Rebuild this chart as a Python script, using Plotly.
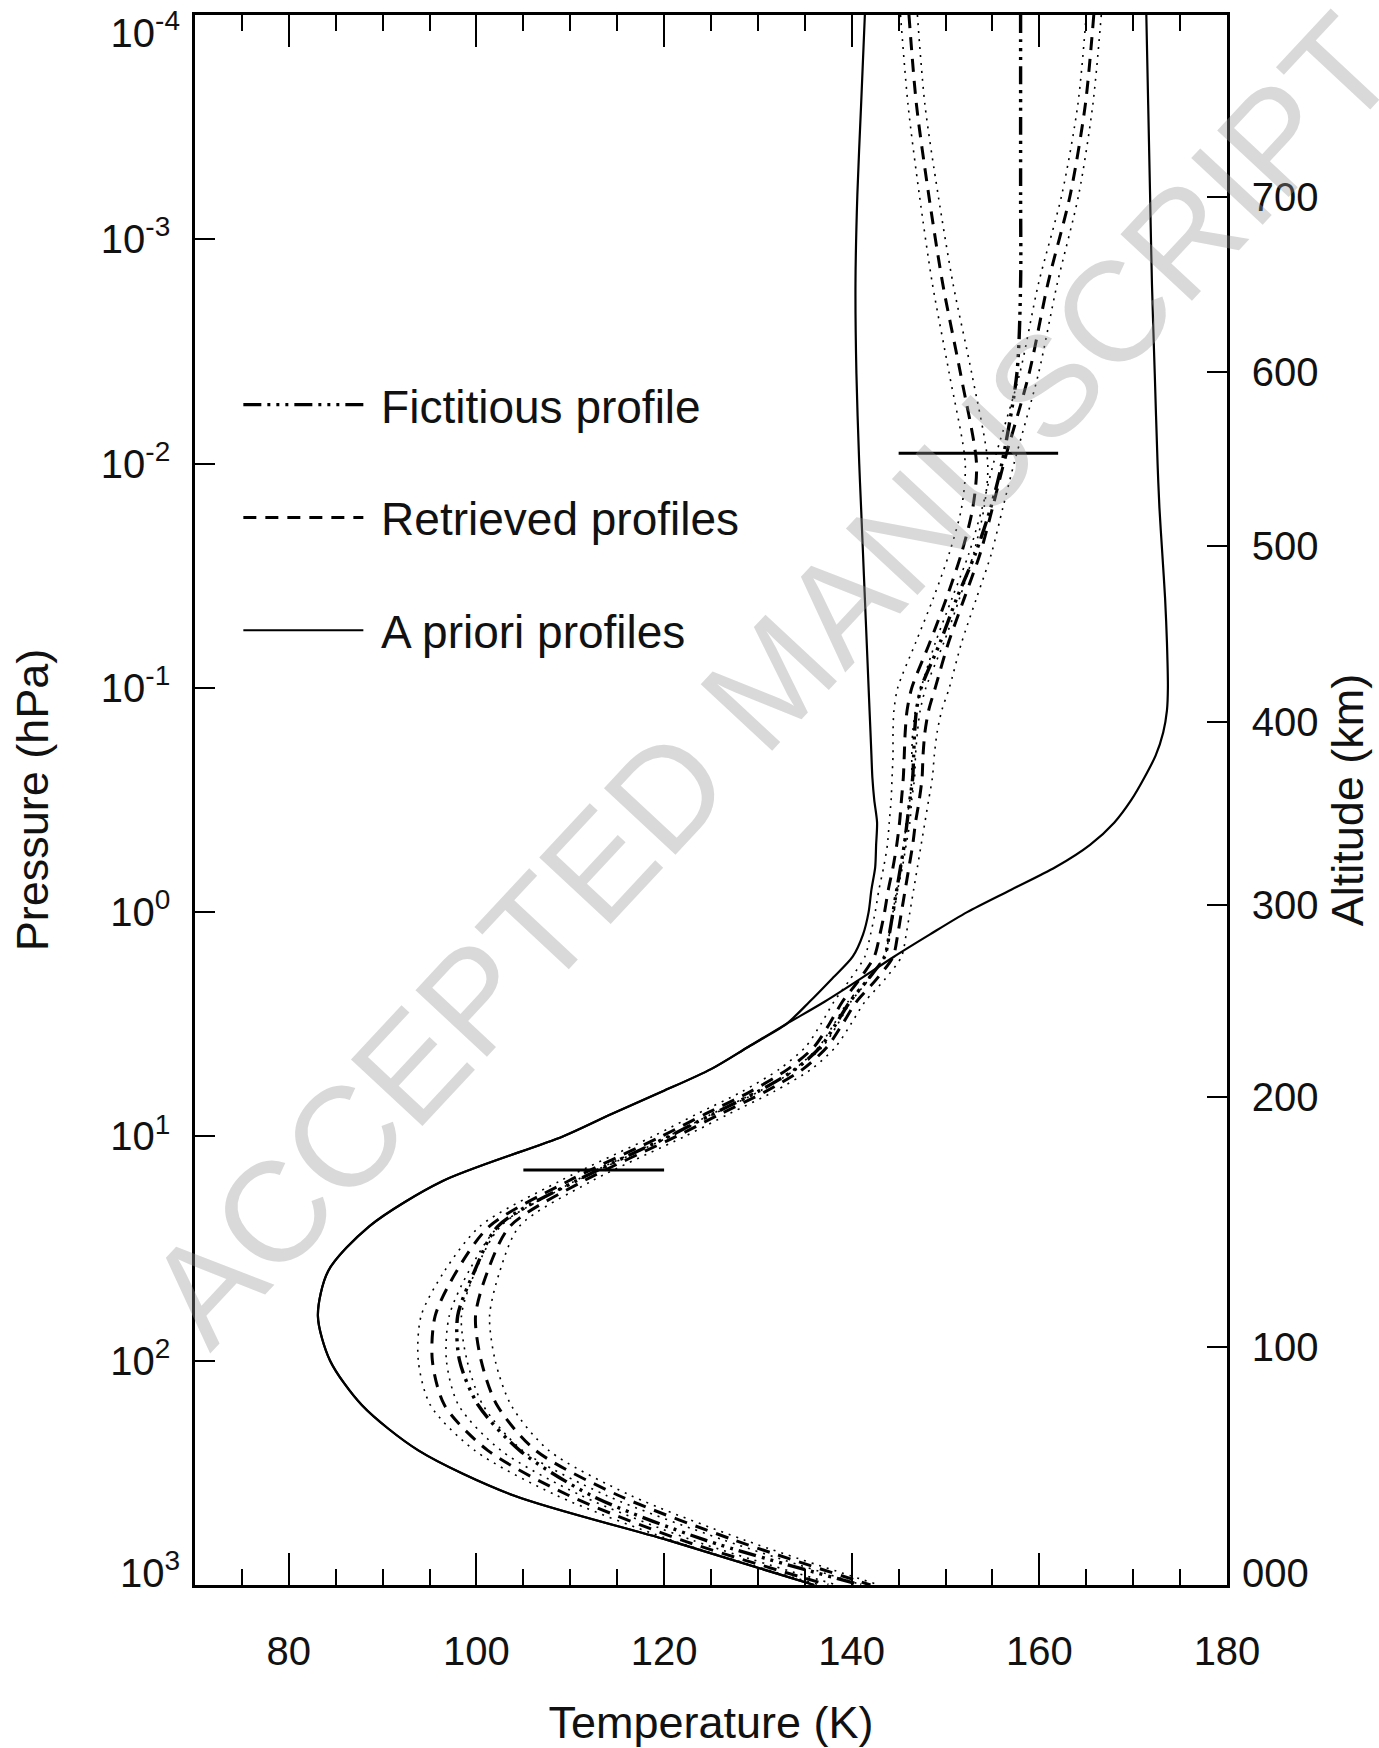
import plotly.graph_objects as go

# ---------------- data ----------------
pressure_hpa = [1.0e-4, 2.51e-4, 6.31e-4, 1.58e-3, 3.98e-3, 1.0e-2, 1.58e-2, 2.51e-2, 3.98e-2, 6.31e-2,
                0.100, 0.126, 0.158, 0.200, 0.251, 0.316, 0.398, 0.501, 0.631, 0.794,
                1.00, 1.26, 1.58, 2.00, 2.51, 3.16, 3.98, 5.01, 6.31, 7.94,
                10.0, 15.8, 25.1, 39.8, 63.1, 100.0, 158.0, 251.0, 398.0, 631.0, 1000.0]

apriori_warm_K = [171.4, 171.6, 171.8, 172.0, 172.3, 172.6, 172.8, 173.1, 173.4, 173.6,
                  173.7, 173.6, 173.2, 172.4, 171.2, 169.8, 168.0, 165.4, 161.7, 157.0,
                  152.3, 148.3, 144.5, 140.8, 137.1, 133.0, 129.0, 125.0, 119.8, 114.4,
                  109.2, 96.4, 88.6, 84.2, 83.1, 84.4, 87.8, 93.8, 103.9, 120.4, 136.0]

apriori_cold_K = [141.4, 141.0, 140.6, 140.4, 140.5, 140.8, 141.0, 141.2, 141.4, 141.6,
                  141.8, 141.9, 142.0, 142.1, 142.2, 142.4, 142.7, 142.6, 142.5, 142.1,
                  141.8, 141.2, 140.1, 137.8, 135.5, 133.0, 129.0, 125.0, 119.8, 114.4,
                  109.2, 96.4, 88.6, 84.2, 83.1, 84.4, 87.8, 93.8, 103.9, 120.4, 136.0]

fictitious_K = [158.0, 158.0, 158.0, 158.0, 157.6, 156.0, 154.8, 153.2, 151.2, 149.4,
                147.4, 146.9, 146.7, 146.6, 146.5, 146.2, 145.9, 145.6, 145.2, 144.8,
                144.4, 144.0, 143.5, 141.7, 139.8, 138.3, 136.7, 134.0, 130.0, 125.2,
                120.5, 110.6, 102.3, 99.8, 98.0, 98.2, 100.2, 104.6, 112.2, 124.4, 141.0]

retrieved_cold_K = [146.1, 146.9, 148.2, 149.7, 151.6, 153.3, 152.9, 151.7, 150.1, 148.3,
                    146.4, 145.9, 145.7, 145.6, 145.5, 145.3, 145.1, 144.8, 144.4, 143.9,
                    143.5, 143.0, 142.4, 140.8, 139.0, 137.6, 136.0, 133.2, 129.2, 124.4,
                    119.7, 109.8, 101.4, 97.9, 95.6, 95.3, 96.6, 101.2, 109.8, 121.9, 137.5]

retrieved_warm_K = [165.8, 164.9, 163.3, 160.9, 158.9, 156.2, 155.0, 153.7, 152.0, 150.3,
                    148.9, 148.2, 147.8, 147.6, 147.5, 147.2, 146.8, 146.5, 146.1, 145.7,
                    145.3, 144.9, 144.4, 142.6, 140.5, 139.0, 137.4, 134.8, 130.8, 126.0,
                    121.3, 111.4, 103.6, 101.2, 99.9, 100.5, 102.2, 106.3, 115.1, 127.5, 142.0]

error_cold_K = [0.9, 0.9, 1.0, 1.1, 1.2, 1.2, 1.2, 1.3, 1.4, 1.5,
                1.5, 1.4, 1.3, 1.2, 1.2, 1.1, 1.1, 1.0, 1.0, 1.0,
                1.0, 1.0, 1.0, 1.0, 0.9, 0.9, 0.9, 0.9, 0.9, 0.9,
                0.9, 0.9, 1.0, 1.3, 1.5, 1.5, 1.5, 1.4, 1.3, 1.1, 0.9]

error_warm_K = [0.8, 0.8, 0.9, 1.0, 1.0, 1.1, 1.1, 1.2, 1.3, 1.4,
                1.5, 1.4, 1.3, 1.2, 1.1, 1.0, 1.0, 0.9, 0.9, 0.9,
                0.9, 0.9, 0.9, 0.9, 0.9, 0.9, 0.9, 0.9, 0.9, 0.9,
                0.9, 0.9, 1.0, 1.3, 1.5, 1.5, 1.5, 1.4, 1.3, 1.1, 0.9]

# horizontal markers (temperature span, pressure level)
marker_upper_T = [145.0, 162.0]
marker_upper_p = 9.0e-3
marker_lower_T = [105.0, 120.0]
marker_lower_p = 14.1

# axes ticks
pressure_ticks = [1e-3, 1e-2, 1e-1, 1e0, 1e1, 1e2]
pressure_ticktext = ["10<sup>-3</sup>", "10<sup>-2</sup>", "10<sup>-1</sup>",
                     "10<sup>0</sup>", "10<sup>1</sup>", "10<sup>2</sup>"]
temperature_ticks = [80, 100, 120, 140, 160, 180]
altitude_km = [100, 200, 300, 400, 500, 600, 700]
altitude_pressure_hpa = [86.5, 6.70, 0.931, 0.142, 0.0232, 3.92e-3, 6.50e-4]

legend_names = ["Fictitious profile", "Retrieved profiles", "A priori profiles"]

# ---------------- styling ----------------
FONT = "Liberation Sans, Arial, Helvetica, sans-serif"
INK = "#111111"
DASH_FICT = "18px,6px,3px,6px,3px,6px,3px,6px"
DASH_RETR = "13px,9px"
DASH_DOT = "2px,6px"
PAD = "\u00a0"  # small gap between legend sample and its text

fig = go.Figure()


def add_profile(T, dash, width, name=None, group=None, rank=None, legend=False):
    fig.add_trace(go.Scatter(
        x=T, y=pressure_hpa, mode="lines",
        name=(PAD + name) if name else None,
        line=dict(color="black", width=width, dash=dash, shape="spline", smoothing=0.8),
        showlegend=legend, legendgroup=group, legendrank=rank, hoverinfo="skip"))


# a priori (solid)
add_profile(apriori_warm_K, "solid", 2.2, legend_names[2], "apriori", 3, True)
add_profile(apriori_cold_K, "solid", 2.2, legend_names[2], "apriori", 3, False)

# error envelopes (dotted)
for R, E in ((retrieved_cold_K, error_cold_K), (retrieved_warm_K, error_warm_K)):
    add_profile([r - e for r, e in zip(R, E)], DASH_DOT, 1.6, None, "retr", 2, False)
    add_profile([r + e for r, e in zip(R, E)], DASH_DOT, 1.6, None, "retr", 2, False)

# retrieved (dashed)
add_profile(retrieved_cold_K, DASH_RETR, 3.0, legend_names[1], "retr", 2, True)
add_profile(retrieved_warm_K, DASH_RETR, 3.0, legend_names[1], "retr", 2, False)

# fictitious (dash-dot-dot-dot)
add_profile(fictitious_K, DASH_FICT, 3.4, legend_names[0], "fict", 1, True)

# horizontal markers
fig.add_trace(go.Scatter(x=marker_upper_T, y=[marker_upper_p] * 2, mode="lines",
                         line=dict(color="black", width=3), showlegend=False, hoverinfo="skip"))
fig.add_trace(go.Scatter(x=marker_lower_T, y=[marker_lower_p] * 2, mode="lines",
                         line=dict(color="black", width=3), showlegend=False, hoverinfo="skip"))

# helper traces so the overlay axes exist
for ax in ("y2", "y3", "y4", "y5"):
    fig.add_trace(go.Scatter(x=[None], y=[None], yaxis=ax, showlegend=False, hoverinfo="skip"))

tickfont = dict(family=FONT, size=40, color=INK)
titlefont = dict(family=FONT, size=45, color=INK)
yrange = [3, -4]

fig.update_layout(
    width=1379, height=1748,
    margin=dict(l=195, r=152, t=15, b=163, pad=0),
    paper_bgcolor="white", plot_bgcolor="white",
    showlegend=True,
    legend=dict(x=0.042, y=0.775, xanchor="left", yanchor="top",
                bgcolor="rgba(0,0,0,0)", borderwidth=0,
                font=dict(family=FONT, size=46, color=INK),
                itemwidth=120, tracegroupgap=50, traceorder="grouped"),
    xaxis=dict(range=[70, 180], tickmode="array", tickvals=temperature_ticks,
               ticks="inside", ticklen=32, tickwidth=2, tickcolor="black",
               minor=dict(ticks="inside", ticklen=16, tickwidth=2, tickcolor="black",
                          tickmode="linear", tick0=0, dtick=5),
               showline=True, linewidth=2.5, linecolor="black", mirror="ticks",
               showgrid=False, zeroline=False, tickfont=tickfont, ticklabelstandoff=29,
               title=dict(text="Temperature (K)", font=titlefont, standoff=39),
               automargin=False),
    yaxis=dict(type="log", range=yrange, tickmode="array", tickvals=pressure_ticks,
               ticktext=pressure_ticktext, ticks="inside", ticklen=20, tickwidth=2,
               tickcolor="black", showline=True, linewidth=2.5, linecolor="black",
               mirror=False, showgrid=False, zeroline=False, tickfont=tickfont,
               ticklabelstandoff=14,
               title=dict(text="Pressure (hPa)", font=titlefont, standoff=39),
               automargin=False),
    yaxis2=dict(type="log", range=yrange, overlaying="y", side="right", anchor="x",
                tickmode="array", tickvals=altitude_pressure_hpa,
                ticktext=[str(a) for a in altitude_km],
                ticks="inside", ticklen=20, tickwidth=2, tickcolor="black",
                showline=True, linewidth=2.5, linecolor="black",
                showgrid=False, zeroline=False, tickfont=tickfont, ticklabelstandoff=14,
                title=dict(text="Altitude (km)", font=titlefont, standoff=14),
                automargin=False),
    yaxis3=dict(type="log", range=yrange, overlaying="y", side="left", anchor="x",
                tickmode="array", tickvals=[1e-4], ticktext=["10<sup>-4</sup>"],
                ticks="", showline=False, showgrid=False, zeroline=False,
                tickfont=tickfont, ticklabelstandoff=14, ticklabelshift=-18,
                automargin=False),
    yaxis4=dict(type="log", range=yrange, overlaying="y", side="left", anchor="x",
                tickmode="array", tickvals=[1e3], ticktext=["10<sup>3</sup>"],
                ticks="", showline=False, showgrid=False, zeroline=False,
                tickfont=tickfont, ticklabelstandoff=14, ticklabelshift=12,
                automargin=False),
    yaxis5=dict(type="log", range=yrange, overlaying="y", side="right", anchor="x",
                tickmode="array", tickvals=[1e3], ticktext=["000"],
                ticks="", showline=False, showgrid=False, zeroline=False,
                tickfont=tickfont, ticklabelstandoff=14, ticklabelshift=12,
                automargin=False),
)

fig.add_annotation(text="ACCEPTED MANUSCRIPT", xref="paper", yref="paper",
                   x=0.558, y=0.577, xanchor="center", yanchor="middle",
                   showarrow=False, textangle=-47,
                   font=dict(family=FONT, size=142, color="rgba(150,150,150,0.36)"))

fig.write_html("out.html")
